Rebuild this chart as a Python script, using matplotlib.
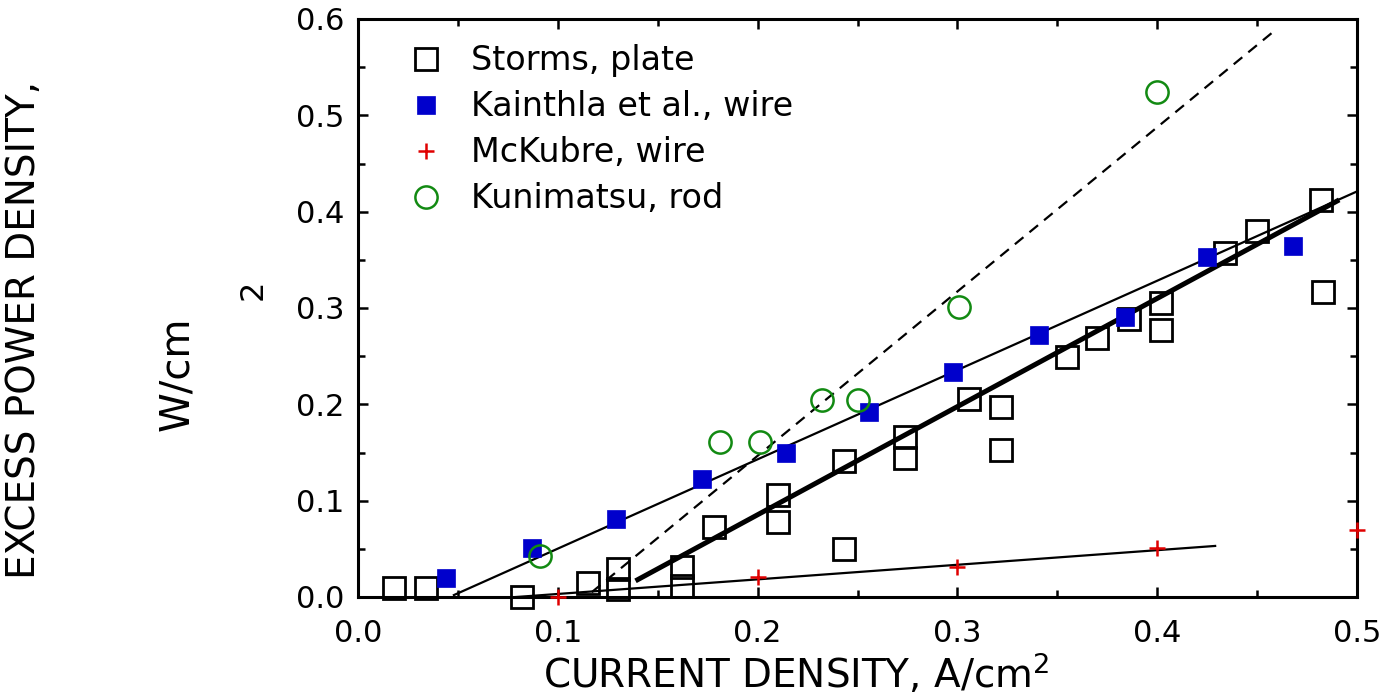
import matplotlib.pyplot as plt
from matplotlib.ticker import MultipleLocator, FormatStrFormatter

# Storms, plate (open squares)
storms_x = [0.018, 0.034, 0.082, 0.115, 0.130, 0.130, 0.162, 0.162, 0.178, 0.210,
            0.210, 0.243, 0.243, 0.274, 0.274, 0.306, 0.322, 0.322, 0.355, 0.370,
            0.386, 0.402, 0.402, 0.434, 0.450, 0.483, 0.482]
storms_y = [0.009, 0.009, 0.000, 0.015, 0.029, 0.008, 0.031, 0.011, 0.073, 0.106,
            0.078, 0.141, 0.050, 0.166, 0.144, 0.206, 0.197, 0.153, 0.249, 0.269,
            0.289, 0.305, 0.277, 0.357, 0.380, 0.317, 0.412]

# Kainthla et al., wire (filled blue squares)
kainthla_x = [0.044, 0.087, 0.129, 0.172, 0.214, 0.256, 0.298, 0.341, 0.384, 0.425, 0.468]
kainthla_y = [0.020, 0.051, 0.081, 0.123, 0.150, 0.192, 0.234, 0.272, 0.291, 0.353, 0.364]

# McKubre, wire (red plus)
mckubre_x = [0.1, 0.2, 0.3, 0.4, 0.5]
mckubre_y = [0.000, 0.021, 0.031, 0.051, 0.070]

# Kunimatsu, rod (open green circles)
kunimatsu_x = [0.091, 0.181, 0.201, 0.232, 0.250, 0.301, 0.400]
kunimatsu_y = [0.043, 0.161, 0.161, 0.204, 0.204, 0.301, 0.524]

# fitted lines (end points)
fit_kainthla_x = [0.048, 0.500]
fit_kainthla_y = [0.002, 0.421]
fit_storms_x = [0.140, 0.490]
fit_storms_y = [0.018, 0.411]
fit_kunimatsu_x = [0.117, 0.460]
fit_kunimatsu_y = [0.005, 0.590]
fit_mckubre_x = [0.066, 0.429]
fit_mckubre_y = [-0.002, 0.053]

blue = '#0000cc'
green = '#128a12'
red = '#e00000'

fig = plt.figure(figsize=(13.95, 6.96), dpi=100)
ax = fig.add_axes([358 / 1395, 99 / 696, 999 / 1395, 578 / 696])

# fit lines
ax.plot(fit_kainthla_x, fit_kainthla_y, color='black', lw=1.6, zorder=2)
ax.plot(fit_storms_x, fit_storms_y, color='black', lw=3.6, zorder=2)
ax.plot(fit_kunimatsu_x, fit_kunimatsu_y, color='black', lw=1.6, ls=(0, (5, 3.5)), zorder=2)
ax.plot(fit_mckubre_x, fit_mckubre_y, color='black', lw=1.6, zorder=2)

# data
ax.plot(storms_x, storms_y, ls='none', marker='s', ms=15.5, mfc='none', mec='black',
        mew=2.0, label='Storms, plate', zorder=3, clip_on=False)
ax.plot(kainthla_x, kainthla_y, ls='none', marker='s', ms=13, mfc=blue, mec=blue,
        mew=0.5, label='Kainthla et al., wire', zorder=3, clip_on=False)
ax.plot(mckubre_x, mckubre_y, ls='none', marker='+', ms=11, mec=red, mew=1.8,
        label='McKubre, wire', zorder=4, clip_on=False)
ax.plot(kunimatsu_x, kunimatsu_y, ls='none', marker='o', ms=16, mfc='none', mec=green,
        mew=1.8, label='Kunimatsu, rod', zorder=3, clip_on=False)

ax.set_xlim(0, 0.5)
ax.set_ylim(0, 0.6)
ax.xaxis.set_major_locator(MultipleLocator(0.1))
ax.xaxis.set_minor_locator(MultipleLocator(0.05))
ax.yaxis.set_major_locator(MultipleLocator(0.1))
ax.yaxis.set_minor_locator(MultipleLocator(0.05))
ax.xaxis.set_major_formatter(FormatStrFormatter('%.1f'))
ax.yaxis.set_major_formatter(FormatStrFormatter('%.1f'))

for s in ax.spines.values():
    s.set_linewidth(2.2)
ax.tick_params(which='both', direction='in', top=True, right=True, width=1.8,
               labelsize=22)
ax.tick_params(which='major', length=7)
ax.tick_params(which='minor', length=5)
ax.tick_params(axis='x', which='major', pad=16)
ax.tick_params(axis='y', which='major', pad=10)

# axis titles
fig.text(796 / 1395, 1 - 688 / 696, 'CURRENT DENSITY, A/cm$^2$', fontsize=28,
         ha='center', va='baseline')
fig.text(24 / 1395, 1 - 330 / 696, 'EXCESS POWER DENSITY,', fontsize=28,
         rotation=90, ha='center', va='center')
fig.text(177 / 1395, 1 - 374 / 696, 'W/cm', fontsize=29,
         rotation=90, ha='center', va='center')
fig.text(253 / 1395, 1 - 290 / 696, '2', fontsize=23,
         rotation=90, ha='center', va='center')

ax.legend(loc='upper left', bbox_to_anchor=(0.051, 0.956), frameon=False,
          fontsize=24, handlelength=1.0, handletextpad=0.85, labelspacing=0.39,
          borderpad=0, borderaxespad=0, numpoints=1)

fig.savefig('out.png', dpi=100)
